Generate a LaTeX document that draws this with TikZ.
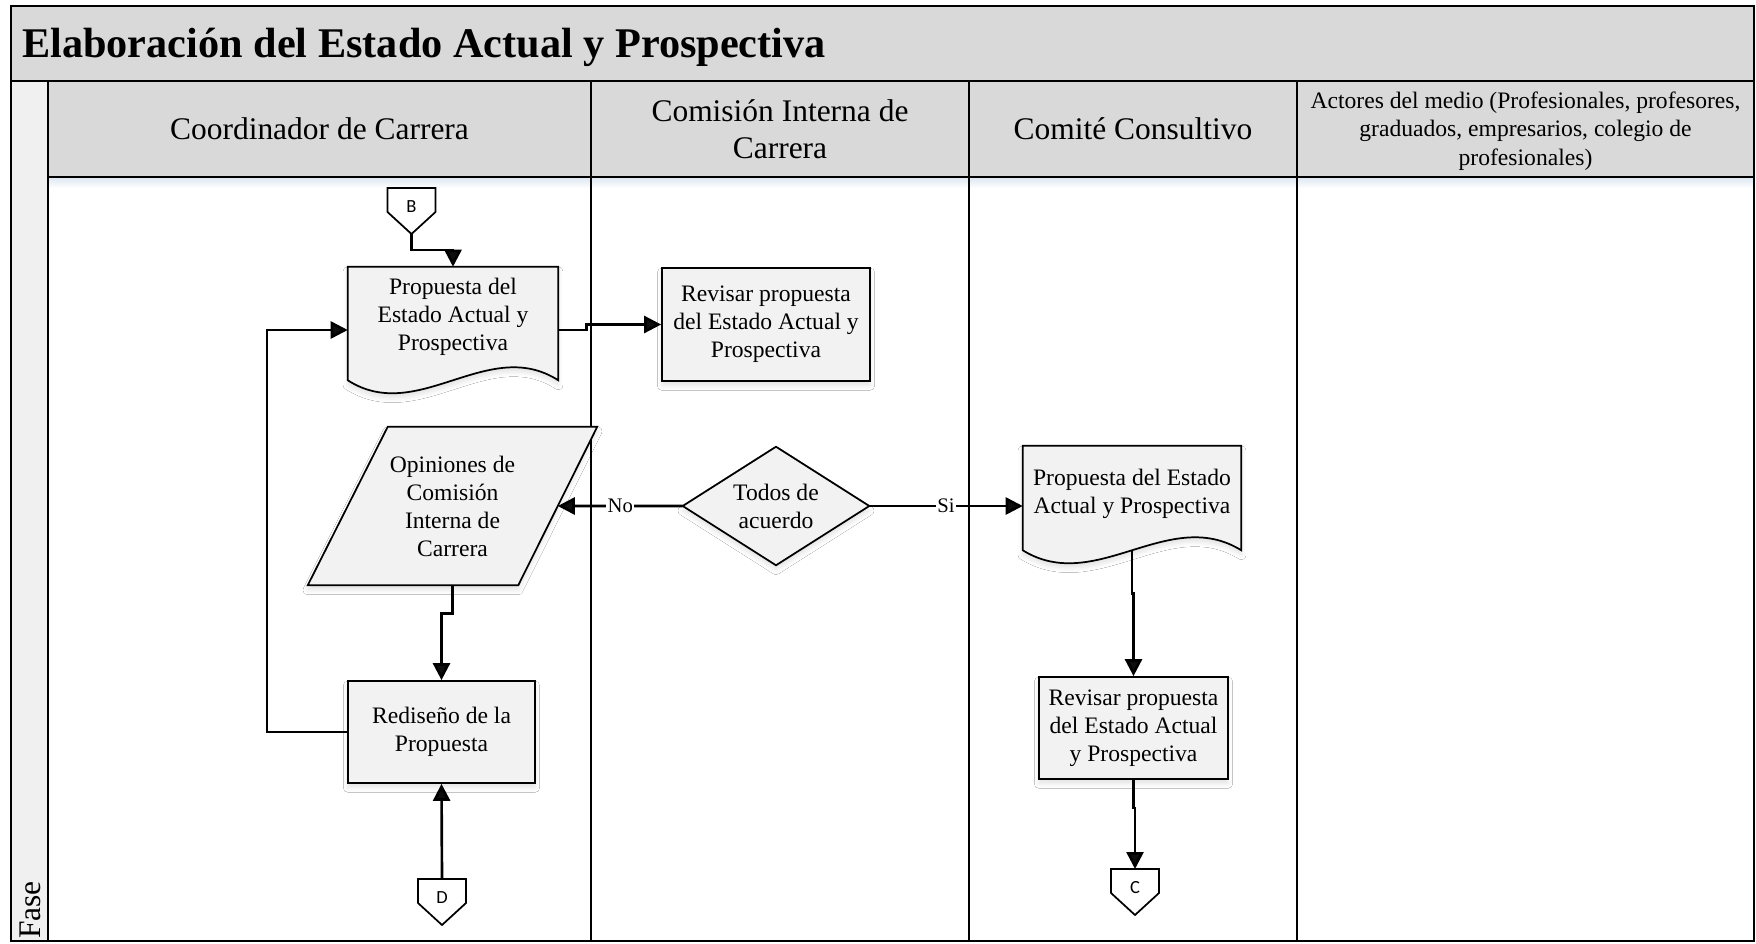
\documentclass[tikz,border=0pt]{standalone}
\usepackage{fontspec}
\setmainfont{Liberation Serif}
\newfontfamily\connfont{Carlito}
\usetikzlibrary{arrows.meta,calc,shadows.blur}

\definecolor{bandgray}{HTML}{D9D9D9}
\definecolor{stripgray}{HTML}{F0F0F0}
\definecolor{formgray}{HTML}{F2F2F2}
\definecolor{shadeblue}{HTML}{DCE6F2}

% document symbol with a wavy bottom, filling the box of node #1
\newcommand\docform[1]{%
  \path[formline] let \p1=(#1.north west), \p2=(#1.south east) in
    (\x1,\y1) -- (\x2,\y1) -- (\x2,{\y2+9.75pt})
    .. controls ({\x1+2*(\x2-\x1)/3},{\y2+43.5pt}) and ({\x1+(\x2-\x1)/3},{\y2-24pt})
    .. (\x1,{\y2+9.75pt}) -- cycle;}

% off-page reference (pentagon pointing down) around coordinate #1
\newcommand\offpage[1]{%
  \draw[line width=1.3pt, fill=white]
    ($(#1)+(-24,-19)$) -- ($(#1)+(24,-19)$) -- ($(#1)+(24,5)$)
    -- ($(#1)+(0,27)$) -- ($(#1)+(-24,5)$) -- cycle;}

\begin{document}
\begin{tikzpicture}[x=0.75pt,y=-0.75pt,
  frameline/.style={line width=1.5pt},
  hdrtext/.style={font=\fontsize{23.6pt}{27.75pt}\selectfont, align=center, inner sep=0pt},
  smalltext/.style={font=\fontsize{17.7pt}{21.5pt}\selectfont, align=center, inner sep=0pt},
  bodytext/.style={font=\fontsize{17.7pt}{21pt}\selectfont, align=center, inner sep=0pt},
  formline/.style={draw=black, line width=1.3pt, fill=formgray,
    blur shadow={shadow xshift=0pt, shadow yshift=-3.5pt, shadow blur radius=3.5pt, shadow opacity=11}},
  procbox/.style={formline, bodytext},
  hull/.style={draw=none, fill=none, inner sep=0pt},
  refmark/.style={font=\connfont\fontsize{13.9pt}{16pt}\selectfont, inner sep=0pt},
  conn/.style={line width=2pt, -{Triangle[length=12.75pt, width=12.75pt]}},
  flowlabel/.style={font=\fontsize{15.5pt}{18pt}\selectfont, fill=white, inner xsep=1pt, inner ysep=2pt}]

\useasboundingbox (0,0) rectangle (1756,943);

% ---------- swimlane frame ----------
\fill[white] (0,0) rectangle (1756,943);
\fill[bandgray] (11,6) rectangle (1754,81);
\fill[bandgray] (48,81) rectangle (1754,177);
\fill[stripgray] (11,81) rectangle (48,941);
\shade[top color=shadeblue, bottom color=white] (48,177) rectangle (1754,188);
\draw[frameline] (11,6) rectangle (1754,941);
\draw[frameline] (11,81) -- (1754,81);
\draw[frameline] (48,177) -- (1754,177);
\draw[frameline] (48,81) -- (48,941);
\draw[frameline] (591,81) -- (591,941);
\draw[frameline] (969,81) -- (969,941);
\draw[frameline] (1297,81) -- (1297,941);

\node[anchor=west, inner sep=0pt, font=\fontsize{31.7pt}{36pt}\selectfont\bfseries] (title) at (22,47)
  {Elaboración del Estado Actual y Prospectiva};

\node[hdrtext] (lane1) at (319.5,129) {Coordinador de Carrera};
\node[hdrtext] (lane2) at (780,129) {Comisión Interna de\\Carrera};
\node[hdrtext] (lane3) at (1133,129) {Comité Consultivo};
\node[smalltext] (lane4) at (1525.5,131) {Actores del medio (Profesionales, profesores,\\graduados, empresarios, colegio de\\profesionales)};
\node[hdrtext, rotate=90, anchor=west] (phase) at (30,939) {Fase};

% ---------- flow shapes ----------
\coordinate (Bc) at (411.5,207);
\offpage{Bc}
\node[refmark] (B) at (Bc) {B};
\coordinate (Btip) at ($(Bc)+(0,27)$);

\node[hull, minimum width=157.5pt, minimum height=94.5pt] (doc1) at (453,330) {};
\docform{doc1}
\node[bodytext] (doc1t) at (453,317) {Propuesta del\\Estado Actual y\\Prospectiva};

\node[procbox, minimum width=156pt, minimum height=84.75pt] (box1) at (766,324.5)
  {Revisar propuesta\\del Estado Actual y\\Prospectiva};

\node[hull, minimum width=216.75pt, minimum height=118.5pt] (para) at (452.5,506) {};
\path[formline] ([xshift=60pt]para.north west) -- (para.north east)
  -- ([xshift=-59.25pt]para.south east) -- (para.south west) -- cycle;
\node[bodytext] (parat) at (para.center) {Opiniones de\\Comisión\\Interna de\\Carrera};
\coordinate (paraR) at ($(para.north east)!0.5!([xshift=-59.25pt]para.south east)$);

\node[hull, minimum width=139.5pt, minimum height=88.5pt] (dec) at (776,506) {};
\path[formline] (dec.north) -- (dec.east) -- (dec.south) -- (dec.west) -- cycle;
\node[bodytext] (dect) at (dec.center) {Todos de\\acuerdo};

\node[hull, minimum width=163.5pt, minimum height=87.75pt] (doc2) at (1132,504.5) {};
\docform{doc2}
\node[bodytext] (doc2t) at (1132,494) {Propuesta del Estado\\Actual y Prospectiva};

\node[procbox, minimum width=141.75pt, minimum height=76.5pt] (box2) at (1133.5,728)
  {Revisar propuesta\\del Estado Actual\\y Prospectiva};

\node[procbox, minimum width=140.25pt, minimum height=76.5pt] (box3) at (441.5,732)
  {Rediseño de la\\Propuesta};

\coordinate (Cc) at (1135,888);
\offpage{Cc}
\node[refmark] (C) at (Cc) {C};
\coordinate (Ctop) at ($(Cc)+(0,-19)$);

\coordinate (Dc) at (442,898);
\offpage{Dc}
\node[refmark] (D) at (Dc) {D};
\coordinate (Dtop) at ($(Dc)+(0,-19)$);

% ---------- connectors ----------
\draw[conn] (Btip) -- ++(0,16) -| (doc1.north);
\draw[conn] (doc1.east) -- ++(28,0) |- (box1.west);
\draw[conn] (dec.west) -- node[flowlabel] (lblno) {No} (paraR);
\draw[conn] (dec.east) -- node[flowlabel] (lblsi) {Si} (dec.east -| doc2.west);
\draw[conn] (para.south) -- ++(0,28) -| (box3.north);
\draw[conn] (box3.west) -- ++(-80,0) |- (doc1.west);
\draw[conn] (Dtop) -- (box3.south);
\draw[conn] ([yshift=9.75pt]doc2.south) -- ++(0,43) -| (box2.north);
\draw[conn] (box2.south) -- ++(0,28) -| (Ctop);

\end{tikzpicture}
\end{document}
